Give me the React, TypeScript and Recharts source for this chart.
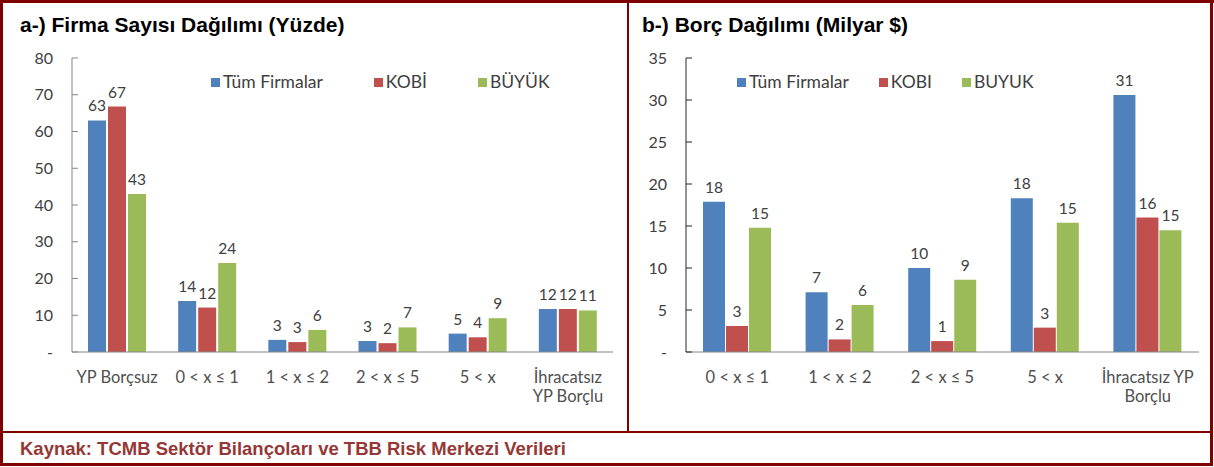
import React from 'react';
import { BarChart, Bar, XAxis, YAxis, Legend, LabelList } from 'recharts';

// a-) Firma Sayısı Dağılımı (Yüzde)
const categoriesA = ['YP Borçsuz', '0 < x ≤ 1', '1 < x ≤ 2', '2 < x ≤ 5', '5 < x', 'İhracatsız\nYP Borçlu'];
const tumA = [63, 13.9, 3.3, 3.0, 5.0, 11.7];
const kobiA = [66.8, 12.1, 2.7, 2.4, 4.0, 11.7];
const buyukA = [43, 24.2, 6.0, 6.7, 9.2, 11.3];
const namesA = ['Tüm Firmalar', 'KOBİ', 'BÜYÜK'];
const ticksA = [0, 10, 20, 30, 40, 50, 60, 70, 80];

// b-) Borç Dağılımı (Milyar $)
const categoriesB = ['0 < x ≤ 1', '1 < x ≤ 2', '2 < x ≤ 5', '5 < x', 'İhracatsız YP\nBorçlu'];
const tumB = [17.9, 7.1, 10.0, 18.3, 30.6];
const kobiB = [3.1, 1.5, 1.3, 2.9, 16.0];
const buyukB = [14.8, 5.6, 8.6, 15.4, 14.5];
const namesB = ['Tüm Firmalar', 'KOBI', 'BUYUK'];
const ticksB = [0, 5, 10, 15, 20, 25, 30, 35];

const COLORS = ['#4F81BD', '#C0504D', '#9BBB59'];
const BORDER = '#7F0000';
const CHART_FONT = 'Lato, "Open Sans", sans-serif';
const TITLE_FONT = '"Liberation Sans", Arial, sans-serif';

const buildRows = (cats: string[], a: number[], b: number[], c: number[]) =>
    cats.map((cat, i) => ({ cat, s0: a[i], s1: b[i], s2: c[i] }));

const YTick = (props: any) => {
    const { x, y, payload, axisColor } = props;
    return (
        <g>
            <line x1={x} x2={x + 6} y1={y} y2={y} stroke={axisColor} />
            <text
                x={x - 19}
                y={y}
                dy={5.5}
                textAnchor="end"
                fontSize={16}
                fontFamily={CHART_FONT}
                fill="#404040"
            >
                {payload.value === 0 ? '-' : payload.value}
            </text>
        </g>
    );
};

const XTick = (props: any) => {
    const { x, y, payload } = props;
    const lines = String(payload.value).split('\n');
    return (
        <text x={x} y={y + 31} textAnchor="middle" fontSize={16.5} fontFamily={CHART_FONT} fill="#505050">
            {lines.map((l, i) => (
                <tspan key={i} x={x} dy={i === 0 ? 0 : 19}>
                    {l}
                </tspan>
            ))}
        </text>
    );
};

const LegendRow = (props: any) => {
    const { names, gap } = props;
    return (
        <div style={{ display: 'flex', gap, fontFamily: CHART_FONT, fontSize: 17.5, color: '#404040', lineHeight: '20px' }}>
            {names.map((n: string, i: number) => (
                <div key={n} style={{ display: 'flex', alignItems: 'center', gap: 3 }}>
                    <span style={{ width: 9, height: 9, background: COLORS[i], display: 'inline-block' }} />
                    <span>{n}</span>
                </div>
            ))}
        </div>
    );
};

interface PanelProps {
    rows: any[];
    names: string[];
    ticks: number[];
    left: number;
    width: number;
    axisWidth: number;
    barSize: number;
    barGap: number;
    legendLeft: number;
    legendGap: number;
    yAxisColor: string;
}

const Panel = (props: PanelProps) => {
    const { rows, names, ticks, left, width, axisWidth, barSize, barGap, legendLeft, legendGap, yAxisColor } = props;
    return (
        <div style={{ position: 'absolute', left, top: 0 }}>
            <BarChart
                width={width}
                height={430}
                data={rows}
                margin={{ top: 58, right: 15, left: 0, bottom: 0 }}
                barSize={barSize}
                barGap={barGap}
            >
                <XAxis
                    dataKey="cat"
                    height={78}
                    tickLine={false}
                    tickSize={0}
                    tickMargin={0}
                    interval={0}
                    stroke="#868686"
                    tick={<XTick />}
                />
                <YAxis
                    width={axisWidth}
                    domain={[0, ticks[ticks.length - 1]]}
                    ticks={ticks}
                    tickLine={false}
                    tickSize={0}
                    tickMargin={0}
                    stroke={yAxisColor}
                    tick={<YTick axisColor={yAxisColor} />}
                />
                <Legend
                    layout="horizontal"
                    verticalAlign="middle"
                    align="center"
                    wrapperStyle={{ left: legendLeft, top: 72, width: 'auto' }}
                    content={<LegendRow names={names} gap={legendGap} />}
                />
                {['s0', 's1', 's2'].map((k, i) => (
                    <Bar key={k} dataKey={k} name={names[i]} fill={COLORS[i]} isAnimationActive={false}>
                        <LabelList
                            dataKey={k}
                            position="top"
                            offset={9}
                            formatter={(v: any) => Math.round(Number(v))}
                            fill="#404040"
                            fontSize={15.5}
                            fontFamily={CHART_FONT}
                        />
                    </Bar>
                ))}
            </BarChart>
        </div>
    );
};

const titleStyle: React.CSSProperties = {
    position: 'absolute',
    top: 13,
    fontFamily: TITLE_FONT,
    fontWeight: 'bold',
    fontSize: 21,
    color: '#000',
    whiteSpace: 'nowrap',
};

const App = () => {
    return (
        <div style={{ position: 'absolute', left: 0, top: 0, width: 1214, height: 467, background: '#fff' }}>
            <Panel
                rows={buildRows(categoriesA, tumA, kobiA, buyukA)}
                names={namesA}
                ticks={ticksA}
                left={0}
                width={628}
                axisWidth={72}
                barSize={18}
                barGap={2}
                legendLeft={211}
                legendGap={51}
                yAxisColor="#868686"
            />
            <Panel
                rows={buildRows(categoriesB, tumB, kobiB, buyukB)}
                names={namesB}
                ticks={ticksB}
                left={630}
                width={584}
                axisWidth={56}
                barSize={22}
                barGap={1}
                legendLeft={107}
                legendGap={30}
                yAxisColor="#262626"
            />
            <div style={{ ...titleStyle, left: 20 }}>a-) Firma Sayısı Dağılımı (Yüzde)</div>
            <div style={{ ...titleStyle, left: 642 }}>b-) Borç Dağılımı (Milyar $)</div>
            <div
                style={{
                    position: 'absolute',
                    left: 20,
                    top: 438,
                    fontFamily: TITLE_FONT,
                    fontWeight: 'bold',
                    fontSize: 18.5,
                    color: '#953735',
                    whiteSpace: 'nowrap',
                }}
            >
                Kaynak: TCMB Sektör Bilançoları ve TBB Risk Merkezi Verileri
            </div>
            {/* frame lines */}
            <div style={{ position: 'absolute', left: 0, top: 0, width: 1214, height: 3, background: BORDER }} />
            <div style={{ position: 'absolute', left: 0, top: 0, width: 3, height: 466, background: BORDER }} />
            <div style={{ position: 'absolute', left: 1210, top: 0, width: 3, height: 466, background: BORDER }} />
            <div style={{ position: 'absolute', left: 0, top: 463, width: 1213, height: 3, background: BORDER }} />
            <div style={{ position: 'absolute', left: 0, top: 431, width: 1213, height: 2, background: BORDER }} />
            <div style={{ position: 'absolute', left: 627, top: 0, width: 2, height: 432, background: BORDER }} />
        </div>
    );
};

export default App;
